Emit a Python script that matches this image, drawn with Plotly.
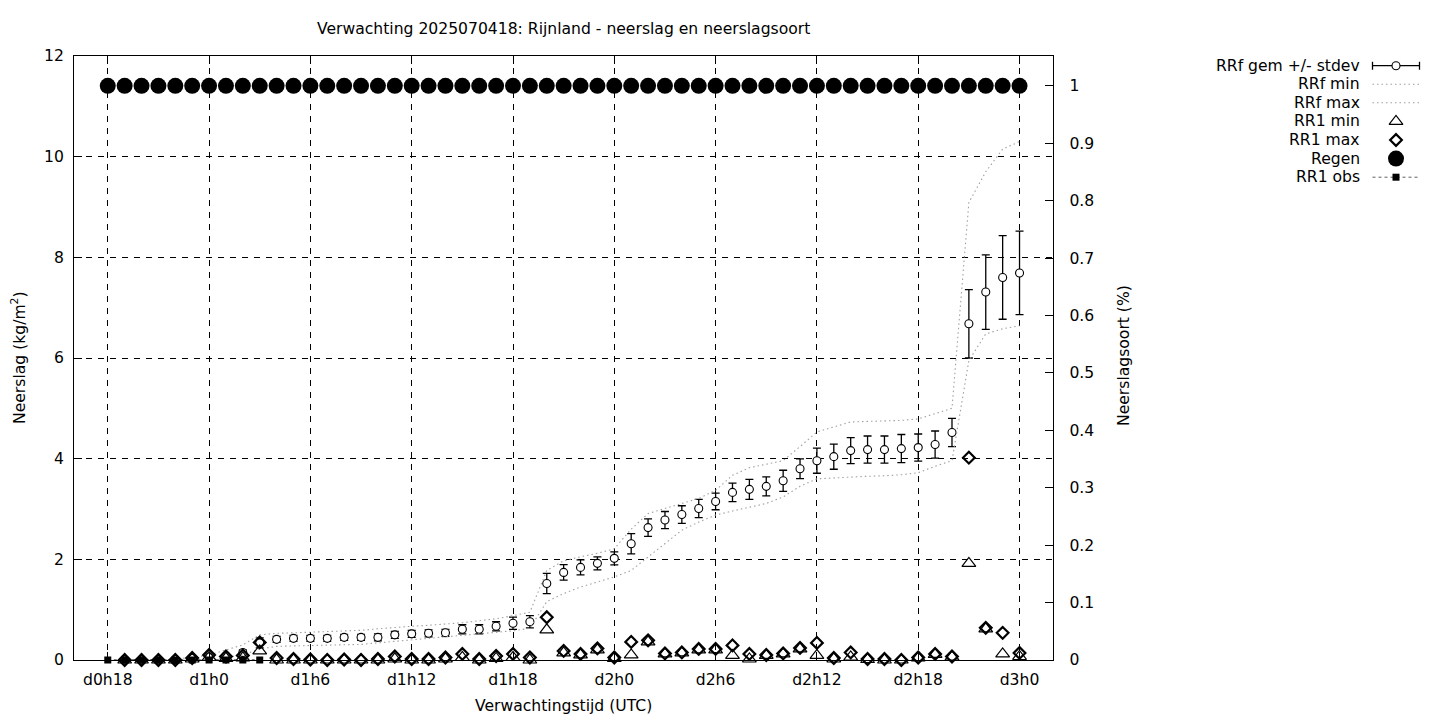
import plotly.graph_objects as go

# ---------------- data ----------------
hours_fc = list(range(19, 73))          # forecast hours since d0h0
hours_regen = list(range(18, 73))
hours_obs = list(range(18, 28))

rrf_mean = [0.0, 0.0, 0.0, 0.01, 0.03, 0.06, 0.08, 0.15, 0.34, 0.41,
            0.43, 0.43, 0.43, 0.45, 0.45, 0.45, 0.50, 0.52, 0.53, 0.54,
            0.61, 0.61, 0.67, 0.73, 0.76, 1.52, 1.74, 1.84, 1.92, 2.02,
            2.31, 2.63, 2.78, 2.89, 3.01, 3.15, 3.33, 3.39, 3.45, 3.56,
            3.80, 3.96, 4.04, 4.16, 4.18, 4.18, 4.20, 4.22, 4.28, 4.52,
            6.68, 7.31, 7.60, 7.69]

rrf_std = [0.0, 0.0, 0.0, 0.01, 0.02, 0.03, 0.04, 0.05, 0.10, 0.06,
           0.06, 0.06, 0.06, 0.06, 0.06, 0.07, 0.07, 0.07, 0.07, 0.07,
           0.09, 0.09, 0.09, 0.12, 0.12, 0.20, 0.155, 0.15, 0.13, 0.13,
           0.20, 0.175, 0.17, 0.175, 0.18, 0.165, 0.185, 0.20, 0.19, 0.21,
           0.195, 0.25, 0.25, 0.26, 0.27, 0.27, 0.28, 0.27, 0.27, 0.28,
           0.68, 0.74, 0.83, 0.83]

rrf_max = [0.0, 0.0, 0.0, 0.02, 0.05, 0.10, 0.20, 0.30, 0.50, 0.53,
           0.54, 0.55, 0.56, 0.57, 0.59, 0.62, 0.65, 0.67, 0.69, 0.71,
           0.74, 0.78, 0.82, 0.88, 0.95, 1.78, 1.97, 2.05, 2.12, 2.21,
           2.60, 2.91, 3.01, 3.11, 3.21, 3.37, 3.67, 3.82, 3.89, 3.96,
           4.24, 4.53, 4.63, 4.73, 4.74, 4.75, 4.76, 4.79, 4.89, 5.00,
           9.09, 9.70, 10.15, 10.30]

rrf_min = [0.0, 0.0, 0.0, 0.0, 0.0, 0.0, 0.05, 0.10, 0.22, 0.27,
           0.28, 0.29, 0.29, 0.30, 0.31, 0.34, 0.37, 0.40, 0.43, 0.46,
           0.49, 0.52, 0.55, 0.58, 0.63, 1.16, 1.32, 1.45, 1.55, 1.65,
           1.78, 2.05, 2.31, 2.58, 2.74, 2.88, 2.96, 3.03, 3.11, 3.24,
           3.45, 3.60, 3.62, 3.64, 3.65, 3.66, 3.68, 3.72, 3.85, 3.96,
           5.95, 6.48, 6.58, 6.64]

rr1_max = [0.0, 0.0, 0.0, 0.0, 0.04, 0.10, 0.07, 0.09, 0.35, 0.04,
           0.02, 0.01, 0.0, 0.01, 0.0, 0.02, 0.07, 0.02, 0.02, 0.05,
           0.12, 0.02, 0.08, 0.12, 0.05, 0.85, 0.18, 0.12, 0.23, 0.05,
           0.36, 0.39, 0.13, 0.15, 0.22, 0.22, 0.29, 0.12, 0.10, 0.13,
           0.24, 0.34, 0.04, 0.15, 0.02, 0.02, 0.0, 0.05, 0.12, 0.07,
           4.02, 0.64, 0.54, 0.14]

rr1_min = [0.0, 0.0, 0.0, 0.0, 0.02, 0.05, 0.03, 0.04, 0.18, 0.0,
           0.0, 0.0, 0.0, 0.0, 0.0, 0.0, 0.02, 0.0, 0.0, 0.02,
           0.05, 0.0, 0.03, 0.05, 0.0, 0.60, 0.14, 0.10, 0.20, 0.03,
           0.10, 0.36, 0.12, 0.14, 0.20, 0.20, 0.09, 0.02, 0.09, 0.12,
           0.22, 0.09, 0.02, 0.06, 0.01, 0.0, 0.0, 0.04, 0.11, 0.06,
           1.92, 0.62, 0.12, 0.07]

regen = [1, 1, 1, 1, 1, 1, 1, 1, 1, 1, 1, 1, 1, 1, 1, 1, 1, 1, 1, 1,
         1, 1, 1, 1, 1, 1, 1, 1, 1, 1, 1, 1, 1, 1, 1, 1, 1, 1, 1, 1,
         1, 1, 1, 1, 1, 1, 1, 1, 1, 1, 1, 1, 1, 1, 1]

rr1_obs = [0, 0, 0, 0, 0, 0, 0, 0, 0, 0]

x_tick_vals = [18, 24, 30, 36, 42, 48, 54, 60, 66, 72]
x_tick_text = ["d0h18", "d1h0", "d1h6", "d1h12", "d1h18",
               "d2h0", "d2h6", "d2h12", "d2h18", "d3h0"]
y_tick_vals = [0, 2, 4, 6, 8, 10, 12]
y2_tick_vals = [0, 0.1, 0.2, 0.3, 0.4, 0.5, 0.6, 0.7, 0.8, 0.9, 1]
y2_tick_text = ["0", "0.1", "0.2", "0.3", "0.4", "0.5", "0.6", "0.7", "0.8", "0.9", "1"]

legend_labels = ["RRf gem +/- stdev", "RRf min", "RRf max", "RR1 min",
                 "RR1 max", "Regen", "RR1 obs"]

title_text = "Verwachting 2025070418: Rijnland - neerslag en neerslagsoort"

# ---------------- layout geometry ----------------
# The page body adds an 8 px margin, so screen pixel = figure pixel + OFF.
OFF = 8
W, H = 1440 - OFF, 720 - OFF
SCR_LEFT, SCR_TOP, SCR_BOTTOM, SCR_RIGHT = 74, 56, 660, 1053.3
ML = SCR_LEFT - OFF
MT = SCR_TOP - OFF
MB = H - (SCR_BOTTOM - OFF)
MR = 0
PAPER_W = W - ML - MR
PLOT_H = H - MT - MB
MAIN_END = (SCR_RIGHT - SCR_LEFT) / PAPER_W
LEG_START = 0.75


def px_x(sx):
    """screen x pixel -> paper fraction"""
    return (sx - SCR_LEFT) / PAPER_W


def px_y(sy):
    """screen y pixel -> paper fraction"""
    return (SCR_BOTTOM - sy) / PLOT_H


FONT = "DejaVu Sans"
FS = 15.6
GRAY = "#a0a0a0"
DOTS = "1.5px,3px"
GRID_DASH = "6px,6px"

CIRCLE_MARK = dict(symbol="circle", size=8, color="white",
                   line=dict(color="black", width=1.1))
TRI_MARK = dict(symbol="triangle-up-open", size=12, color="black",
                line=dict(color="black", width=1.2))
DIA_MARK = dict(symbol="diamond-open", size=9, color="black",
                line=dict(color="black", width=2.2))
DOT_MARK = dict(symbol="circle", size=16, color="black")
SQ_MARK = dict(symbol="square", size=7, color="black")

fig = go.Figure()

# RRf gem +/- stdev
fig.add_trace(go.Scatter(
    x=hours_fc, y=rrf_mean, mode="markers", cliponaxis=False,
    marker=CIRCLE_MARK,
    error_y=dict(type="data", array=rrf_std, visible=True,
                 color="black", thickness=1.3, width=4),
))
# RRf min / max
fig.add_trace(go.Scatter(x=hours_fc, y=rrf_min, mode="lines",
                         line=dict(color=GRAY, width=1.1, dash=DOTS)))
fig.add_trace(go.Scatter(x=hours_fc, y=rrf_max, mode="lines",
                         line=dict(color=GRAY, width=1.1, dash=DOTS)))
# RR1 min (triangles)
fig.add_trace(go.Scatter(x=hours_fc, y=rr1_min, mode="markers",
                         cliponaxis=False, marker=TRI_MARK))
# RR1 max (diamonds)
fig.add_trace(go.Scatter(x=hours_fc, y=rr1_max, mode="markers",
                         cliponaxis=False, marker=DIA_MARK))
# Regen (right axis)
fig.add_trace(go.Scatter(x=hours_regen, y=regen, mode="markers", yaxis="y2",
                         cliponaxis=False, marker=DOT_MARK))
# RR1 obs
fig.add_trace(go.Scatter(
    x=hours_obs, y=rr1_obs, mode="lines+markers", cliponaxis=False,
    line=dict(color="black", width=1, dash="dot"), marker=SQ_MARK))

# ---------------- custom legend (text left of sample, gnuplot style) ----------------
# legend helper axes use screen-pixel units
LEG_PX0 = SCR_LEFT + LEG_START * PAPER_W
LEG_PX1 = SCR_LEFT + PAPER_W
LEG_TEXT_X = 1361.5
LEG_S0, LEG_S1 = 1372.5, 1419.5
LEG_MID = (LEG_S0 + LEG_S1) / 2
LEG_ROWS = [65.7, 84.2, 102.8, 121.4, 140.0, 158.6, 177.2]

fig.add_trace(go.Scatter(
    x=[LEG_MID], y=[LEG_ROWS[0]], xaxis="x3", yaxis="y3", mode="markers",
    cliponaxis=False, marker=CIRCLE_MARK,
    error_x=dict(type="data", array=[(LEG_S1 - LEG_S0) / 2], visible=True,
                 color="black", thickness=1.3, width=4),
))
for r in (1, 2):
    fig.add_trace(go.Scatter(
        x=[LEG_S0, LEG_S1], y=[LEG_ROWS[r], LEG_ROWS[r]], xaxis="x3", yaxis="y3",
        mode="lines", line=dict(color=GRAY, width=1.1, dash=DOTS), cliponaxis=False))
fig.add_trace(go.Scatter(x=[LEG_MID], y=[LEG_ROWS[3]], xaxis="x3", yaxis="y3",
                         mode="markers", cliponaxis=False, marker=TRI_MARK))
fig.add_trace(go.Scatter(x=[LEG_MID], y=[LEG_ROWS[4]], xaxis="x3", yaxis="y3",
                         mode="markers", cliponaxis=False, marker=DIA_MARK))
fig.add_trace(go.Scatter(x=[LEG_MID], y=[LEG_ROWS[5]], xaxis="x3", yaxis="y3",
                         mode="markers", cliponaxis=False, marker=DOT_MARK))
fig.add_trace(go.Scatter(
    x=[LEG_S0, LEG_MID, LEG_S1], y=[LEG_ROWS[6]] * 3, xaxis="x3", yaxis="y3",
    mode="lines", line=dict(color="#606060", width=1, dash="dot"), cliponaxis=False))
fig.add_trace(go.Scatter(x=[LEG_MID], y=[LEG_ROWS[6]], xaxis="x3", yaxis="y3",
                         mode="markers", cliponaxis=False, marker=SQ_MARK))

annotations = []
for lbl, row in zip(legend_labels, LEG_ROWS):
    annotations.append(dict(
        text=lbl, x=LEG_TEXT_X, y=row, xref="x3", yref="y3",
        xanchor="right", yanchor="middle", showarrow=False,
        font=dict(family=FONT, size=FS, color="black")))

# axis titles
annotations.append(dict(
    text="Verwachtingstijd (UTC)", x=MAIN_END / 2, y=px_y(706),
    xref="paper", yref="paper", xanchor="center", yanchor="middle",
    showarrow=False, font=dict(family=FONT, size=FS, color="black")))
annotations.append(dict(
    text="Neerslag (kg/m<sup>2</sup>)", x=px_x(18), y=px_y(358),
    xref="paper", yref="paper", xanchor="center", yanchor="middle",
    textangle=-90, showarrow=False, font=dict(family=FONT, size=FS, color="black")))
annotations.append(dict(
    text="Neerslagsoort (%)", x=px_x(1124), y=px_y(356),
    xref="paper", yref="paper", xanchor="center", yanchor="middle",
    textangle=-90, showarrow=False, font=dict(family=FONT, size=FS, color="black")))

axis_common = dict(
    showline=True, linecolor="black", linewidth=1,
    ticks="inside", ticklen=8, tickcolor="black", tickwidth=1,
    zeroline=False, tickfont=dict(family=FONT, size=FS, color="black"),
)

title_cx = ((SCR_LEFT + SCR_RIGHT) / 2 - OFF) / W

fig.update_layout(
    width=W, height=H,
    margin=dict(l=ML, r=MR, t=MT, b=MB, pad=0),
    paper_bgcolor="white", plot_bgcolor="white",
    showlegend=False,
    font=dict(family=FONT, size=FS, color="black"),
    title=dict(text=title_text, x=title_cx, xref="container", xanchor="center",
               y=1 - (29 - OFF) / H, yref="container", yanchor="middle",
               font=dict(family=FONT, size=FS, color="black")),
    xaxis=dict(domain=[0, MAIN_END], range=[16, 74], tickmode="array",
               tickvals=x_tick_vals, ticktext=x_tick_text, mirror="ticks",
               showgrid=True, gridcolor="black", gridwidth=1, griddash=GRID_DASH,
               ticklabelstandoff=5, **axis_common),
    yaxis=dict(range=[0, 12], tickmode="array", tickvals=y_tick_vals,
               mirror=True, showgrid=True, gridcolor="black", gridwidth=1,
               griddash=GRID_DASH, ticklabelstandoff=6, **axis_common),
    yaxis2=dict(overlaying="y", side="right", anchor="x", range=[0, 1.052],
                tickmode="array", tickvals=y2_tick_vals, ticktext=y2_tick_text,
                showgrid=False, ticklabelstandoff=12, **axis_common),
    xaxis3=dict(domain=[LEG_START, 1], anchor="y3", range=[LEG_PX0, LEG_PX1],
                visible=False, fixedrange=True),
    yaxis3=dict(domain=[0, 1], anchor="x3", range=[SCR_BOTTOM, SCR_TOP],
                visible=False, fixedrange=True),
    annotations=annotations,
)

fig.write_html("out.html")
